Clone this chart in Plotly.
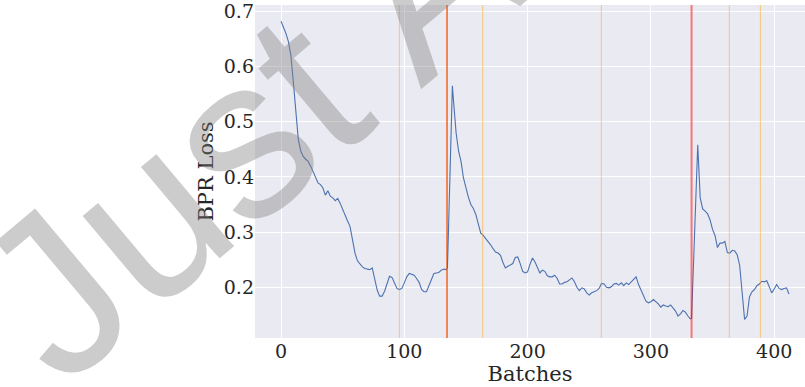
import plotly.graph_objects as go

# BPR loss recorded per training batch (sampled every ~2 batches, denser around the spikes)
batches = [
    0, 2, 4, 6, 8, 10, 12, 14, 16, 18, 20, 22, 24, 26, 28, 30, 32, 34, 36, 38,
    40, 42, 44, 46, 48, 50, 52, 54, 56, 58, 60, 62, 64, 66, 68, 70, 72, 74, 76, 78,
    80, 82, 84, 86, 88, 90, 92, 94, 96, 98, 100, 102, 104, 106, 108, 110, 112, 114, 116, 118,
    120, 122, 124, 126, 128, 130, 132, 134, 135, 137, 139, 140, 142, 144, 146, 148, 150, 152, 154, 156,
    158, 160, 162, 164, 166, 168, 170, 172, 174, 176, 178, 180, 182, 184, 186, 188, 190, 192, 194, 196,
    198, 200, 202, 204, 206, 208, 210, 212, 214, 216, 218, 220, 222, 224, 226, 228, 230, 232, 234, 236,
    238, 240, 242, 244, 246, 248, 250, 252, 254, 256, 258, 260, 262, 264, 266, 268, 270, 272, 274, 276,
    278, 280, 282, 284, 286, 288, 290, 292, 294, 296, 298, 300, 302, 304, 306, 308, 310, 312, 314, 316,
    318, 320, 322, 324, 326, 328, 330, 332, 333, 335, 336, 338, 340, 342, 344, 346, 348, 350, 352, 354,
    356, 358, 360, 362, 364, 366, 368, 370, 372, 374, 376, 378, 380, 382, 384, 386, 388, 390, 392, 394,
    396, 398, 400, 402, 404, 406, 408, 410, 412,
]
bpr_loss = [
    0.682, 0.672, 0.660, 0.645, 0.620, 0.572, 0.515, 0.468, 0.447, 0.437,
    0.432, 0.428, 0.420, 0.410, 0.398, 0.389, 0.386, 0.380, 0.367, 0.375,
    0.365, 0.362, 0.357, 0.361, 0.352, 0.341, 0.328, 0.320, 0.310, 0.285,
    0.262, 0.248, 0.242, 0.237, 0.234, 0.233, 0.232, 0.235, 0.217, 0.195,
    0.184, 0.184, 0.193, 0.206, 0.220, 0.218, 0.209, 0.198, 0.196, 0.198,
    0.208, 0.219, 0.225, 0.223, 0.222, 0.216, 0.209, 0.196, 0.192, 0.192,
    0.203, 0.214, 0.225, 0.226, 0.227, 0.231, 0.233, 0.232, 0.236, 0.400,
    0.565, 0.535, 0.480, 0.447, 0.428, 0.398, 0.380, 0.363, 0.350, 0.343,
    0.332, 0.316, 0.298, 0.294, 0.289, 0.284, 0.277, 0.270, 0.264, 0.262,
    0.258, 0.245, 0.235, 0.238, 0.241, 0.243, 0.254, 0.255, 0.243, 0.229,
    0.226, 0.228, 0.242, 0.253, 0.246, 0.236, 0.226, 0.231, 0.229, 0.221,
    0.219, 0.219, 0.222, 0.216, 0.206, 0.206, 0.209, 0.210, 0.214, 0.217,
    0.210, 0.200, 0.194, 0.199, 0.197, 0.190, 0.186, 0.190, 0.192, 0.194,
    0.198, 0.207, 0.206, 0.200, 0.199, 0.201, 0.206, 0.207, 0.204, 0.208,
    0.203, 0.208, 0.205, 0.210, 0.216, 0.219, 0.205, 0.194, 0.185, 0.175,
    0.172, 0.174, 0.178, 0.174, 0.170, 0.164, 0.168, 0.166, 0.165, 0.168,
    0.163, 0.157, 0.148, 0.152, 0.158, 0.155, 0.148, 0.143, 0.144, 0.270,
    0.330, 0.458, 0.362, 0.342, 0.338, 0.333, 0.322, 0.305, 0.294, 0.272,
    0.280, 0.280, 0.283, 0.263, 0.262, 0.267, 0.266, 0.259, 0.240, 0.195,
    0.142, 0.148, 0.183, 0.192, 0.196, 0.203, 0.206, 0.211, 0.210, 0.212,
    0.200, 0.190, 0.197, 0.205, 0.198, 0.196, 0.198, 0.199, 0.188,
]

# batch markers drawn as vertical rules
orange_marks = [96, 134.3, 163.6, 259.8, 363.6, 388.8]
red_marks = [134.7]
faded_red_marks = [333]

BG = "#EAEAF2"
TEXT = "#262626"
SERIF = "DejaVu Serif"

fig = go.Figure()
fig.add_trace(go.Scatter(
    x=batches, y=bpr_loss, mode="lines",
    line=dict(color="#4C72B0", width=1.1),
    showlegend=False, hoverinfo="skip",
))

shapes = []
for b in orange_marks:
    shapes.append(dict(type="line", xref="x", yref="paper", x0=b, x1=b, y0=0, y1=1,
                       line=dict(color="rgba(255,165,0,0.5)", width=1), layer="above"))
for b in red_marks:
    shapes.append(dict(type="line", xref="x", yref="paper", x0=b, x1=b, y0=0, y1=1,
                       line=dict(color="rgba(235,40,30,0.95)", width=1), layer="above"))
for b in faded_red_marks:
    shapes.append(dict(type="line", xref="x", yref="paper", x0=b, x1=b, y0=0, y1=1,
                       line=dict(color="rgba(255,0,0,0.5)", width=2), layer="above"))

fig.update_layout(
    width=805, height=387,
    margin=dict(l=255, r=0, t=5, b=49),
    paper_bgcolor="white",
    plot_bgcolor=BG,
    shapes=shapes,
    font=dict(family=SERIF, color=TEXT),
    xaxis=dict(
        range=[-21.1, 425], tickmode="array", tickvals=[0, 100, 200, 300, 400],
        showgrid=True, gridcolor="white", gridwidth=1.2, zeroline=False,
        showline=False, ticks="", tickfont=dict(family=SERIF, size=19, color=TEXT),
        title=dict(text="Batches", font=dict(family=SERIF, size=21, color=TEXT), standoff=2),
    ),
    yaxis=dict(
        range=[0.1082, 0.7114], tickmode="array",
        tickvals=[0.2, 0.3, 0.4, 0.5, 0.6, 0.7],
        ticktext=["0.2", "0.3", "0.4", "0.5", "0.6", "0.7"],
        ticklabeloverflow="allow",
        showgrid=True, gridcolor="white", gridwidth=1.2, zeroline=False,
        showline=False, ticks="", tickfont=dict(family=SERIF, size=19, color=TEXT),
        title=dict(text="BPR Loss", font=dict(family=SERIF, size=21, color=TEXT), standoff=4),
    ),
    annotations=[dict(
        text="Just A", xref="paper", yref="paper", x=-0.012, y=0.622,
        xanchor="center", yanchor="middle", showarrow=False, textangle=-40,
        font=dict(family="Liberation Sans", size=228, color="rgba(128,128,128,0.4)"),
    )],
)

fig.write_html("out.html")
